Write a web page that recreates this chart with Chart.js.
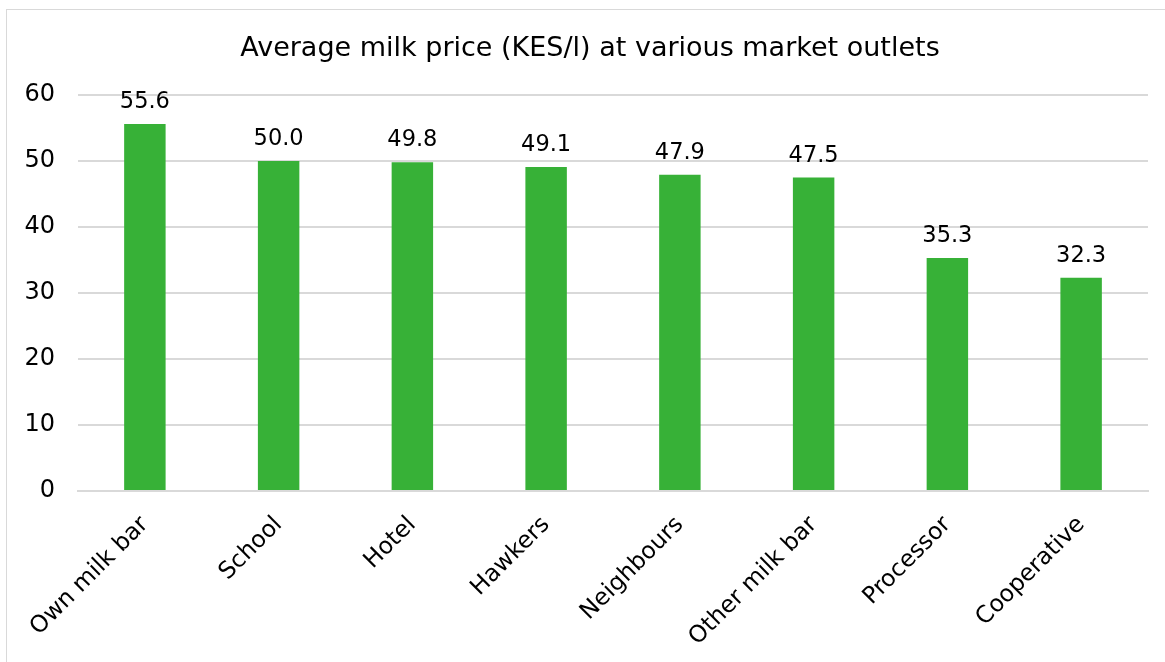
<!DOCTYPE html>
<html>
<head>
<meta charset="utf-8">
<script src="https://cdn.jsdelivr.net/npm/chart.js@4/dist/chart.umd.min.js"></script>
<style>
html,body{margin:0;padding:0;background:#fff;}
#wrap{position:relative;width:1165px;height:662px;}
</style>
</head>
<body>
<div id="wrap"><canvas id="c" width="1165" height="662"></canvas></div>
<script>
const categories = ["Own milk bar","School","Hotel","Hawkers","Neighbours","Other milk bar","Processor","Cooperative"];
const prices = [55.6, 50.0, 49.8, 49.1, 47.9, 47.5, 35.3, 32.3];
const yTicks = [0, 10, 20, 30, 40, 50, 60];
const chartTitle = "Average milk price (KES/l) at various market outlets";

const FONT = "'DejaVu Sans', Verdana, sans-serif";

const borderPlugin = {
  id: 'outerBorder',
  beforeDraw(chart) {
    const ctx = chart.ctx;
    ctx.save();
    ctx.fillStyle = '#fff';
    ctx.fillRect(0, 0, chart.width, chart.height);
    ctx.strokeStyle = '#d9d9d9';
    ctx.lineWidth = 1;
    ctx.strokeRect(6.5, 9.5, 1200, 700);
    ctx.restore();
  }
};

const titlePlugin = {
  id: 'customTitle',
  afterDraw(chart) {
    const ctx = chart.ctx;
    ctx.save();
    ctx.font = "27px " + FONT;
    ctx.fillStyle = '#000';
    ctx.textAlign = 'center';
    ctx.textBaseline = 'alphabetic';
    ctx.fillText(chartTitle, 590, 56);
    ctx.restore();
  }
};

const valueLabels = {
  id: 'valueLabels',
  afterDatasetsDraw(chart) {
    const ctx = chart.ctx;
    const meta = chart.getDatasetMeta(0);
    ctx.save();
    ctx.font = "22.5px " + FONT;
    ctx.fillStyle = '#000';
    ctx.textAlign = 'center';
    ctx.textBaseline = 'alphabetic';
    meta.data.forEach((bar, i) => {
      const v = chart.data.datasets[0].data[i];
      ctx.fillText(v.toFixed(1), bar.x, bar.y - 16);
    });
    ctx.restore();
  }
};

new Chart(document.getElementById('c'), {
  type: 'bar',
  data: {
    labels: categories,
    datasets: [{
      data: prices,
      backgroundColor: '#37b137',
      borderWidth: 0,
      barPercentage: 0.31,
      categoryPercentage: 1.0
    }]
  },
  options: {
    responsive: false,
    animation: false,
    devicePixelRatio: 1,
    layout: { padding: { left: 0, right: 17, top: 95, bottom: 0 } },
    plugins: {
      legend: { display: false },
      tooltip: { enabled: false },
      title: { display: false }
    },
    scales: {
      x: {
        grid: { display: false, drawTicks: false },
        border: { display: true, color: '#d9d9d9', width: 2 },
        ticks: {
          color: '#000',
          font: { family: FONT, size: 23.5 },
          maxRotation: 45,
          minRotation: 45,
          padding: 20,
          autoSkip: false
        },
        afterFit(scale) { scale.height = 171; }
      },
      y: {
        min: 0,
        max: 60,
        afterBuildTicks(scale) { scale.ticks = yTicks.map(v => ({ value: v })); },
        grid: { color: '#d9d9d9', lineWidth: 2, drawTicks: false },
        border: { display: false },
        ticks: {
          color: '#000',
          font: { family: FONT, size: 24 },
          padding: 23
        },
        afterFit(scale) { scale.width = 78; }
      }
    }
  },
  plugins: [borderPlugin, titlePlugin, valueLabels]
});
</script>
</body>
</html>
